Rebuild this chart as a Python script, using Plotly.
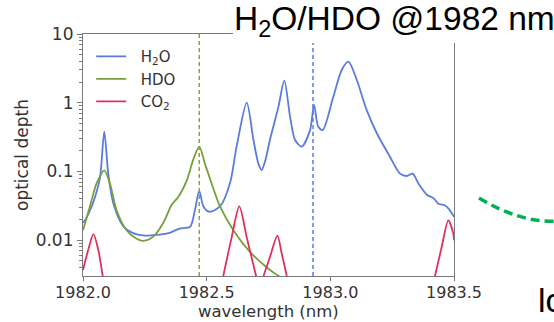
import plotly.graph_objects as go

# ---------------- data ----------------
h2o_wl = [1982.000, 1982.010, 1982.030, 1982.049, 1982.069, 1982.086, 1982.102, 1982.123,
          1982.163, 1982.200, 1982.250, 1982.300, 1982.350, 1982.390, 1982.433, 1982.453,
          1982.470, 1982.487, 1982.510, 1982.554, 1982.594, 1982.621, 1982.662, 1982.689,
          1982.709, 1982.722, 1982.736, 1982.756, 1982.790, 1982.814, 1982.837, 1982.857,
          1982.884, 1982.918, 1982.934, 1982.951, 1982.969, 1983.012, 1983.046, 1983.073,
          1983.107, 1983.147, 1983.188, 1983.241, 1983.282, 1983.309, 1983.333, 1983.356,
          1983.390, 1983.417, 1983.437, 1983.464, 1983.477, 1983.500]
h2o_od = [0.018, 0.020, 0.028, 0.043, 0.083, 0.38, 0.093, 0.034,
          0.016, 0.0128, 0.0117, 0.0120, 0.0128, 0.0148, 0.0157, 0.028,
          0.052, 0.031, 0.026, 0.031, 0.067, 0.23, 1.0, 0.29,
          0.13, 0.105, 0.14, 0.29, 0.87, 2.1, 0.63, 0.29,
          0.23, 0.40, 0.93, 0.45, 0.40, 1.22, 3.0, 3.95,
          2.14, 0.78, 0.36, 0.164, 0.093, 0.086, 0.093, 0.067,
          0.046, 0.041, 0.034, 0.032, 0.029, 0.022]

hdo_wl = [1982.000, 1982.028, 1982.055, 1982.086, 1982.109, 1982.136, 1982.176, 1982.217,
          1982.244, 1982.284, 1982.325, 1982.359, 1982.386, 1982.420, 1982.446, 1982.470,
          1982.493, 1982.520, 1982.554, 1982.608, 1982.675, 1982.756, 1982.820]
hdo_od = [0.014, 0.031, 0.067, 0.104, 0.067, 0.027, 0.014, 0.0105,
          0.0098, 0.0113, 0.018, 0.033, 0.043, 0.075, 0.15, 0.23,
          0.13, 0.067, 0.031, 0.014, 0.0068, 0.0037, 0.0026]

co2_wl = [1982.000, 1982.021, 1982.042, 1982.062, 1982.080, 1982.095, None,
          1982.550, 1982.567, 1982.601, 1982.632, 1982.662, 1982.700, 1982.715,
          1982.730, 1982.756, 1982.786, 1982.803, 1982.824, 1982.840, None,
          1983.405, 1983.423, 1983.450, 1983.477, 1983.497, 1983.500]
co2_od = [0.0037, 0.0072, 0.0123, 0.0072, 0.0030, 0.0015, None,
          0.0015, 0.0030, 0.011, 0.031, 0.011, 0.0030, 0.0018,
          0.0030, 0.0057, 0.0117, 0.0065, 0.0030, 0.0015, None,
          0.0015, 0.0030, 0.0079, 0.0195, 0.0126, 0.0100]

marker_wl = [1982.47, 1982.93]          # dashed reference lines (HDO, H2O)
x_ticks = [1982.0, 1982.5, 1983.0, 1983.5]
x_tick_text = ["1982.0", "1982.5", "1983.0", "1983.5"]
y_ticks = [0.01, 0.1, 1, 10]
y_tick_text = ["0.01", "0.1", "1", "10"]
y_minor = [m * d for d in [0.001, 0.01, 0.1, 1] for m in range(2, 10)]

# ---------------- styling ----------------
W, H = 554, 322
L, R, T, B = 83, 100, 34, 46
PW, PH = W - L - R, H - T - B


def px(xp):
    return (xp - L) / PW


def py(yp):
    return (H - B - yp) / PH


BLUE = "#5b7be0"
GREEN = "#76a03a"
RED = "#e0305e"
AXC = "#7a7a7a"
TXT = "#333333"
AXFONT = "DejaVu Sans"

fig = go.Figure()
fig.add_trace(go.Scatter(x=h2o_wl, y=h2o_od, mode="lines", name="  H<sub>2</sub>O",
                         line=dict(color=BLUE, width=1.8, shape="spline", smoothing=0.8)))
fig.add_trace(go.Scatter(x=hdo_wl, y=hdo_od, mode="lines", name="  HDO",
                         line=dict(color=GREEN, width=1.8, shape="spline", smoothing=0.8)))
fig.add_trace(go.Scatter(x=co2_wl, y=co2_od, mode="lines", name="  CO<sub>2</sub>",
                         connectgaps=False,
                         line=dict(color=RED, width=1.8, shape="spline", smoothing=0.8)))

for wl, col in zip(marker_wl, ["#86a83a", BLUE]):
    fig.add_shape(type="line", xref="x", yref="paper", x0=wl, x1=wl, y0=0, y1=1,
                  line=dict(color=col, width=1.5, dash="4px,3px"), layer="above")

# white box behind the slide title (it covers the top/right spines)
fig.add_shape(type="rect", xref="paper", yref="paper", x0=px(233), x1=px(600),
              y0=py(43), y1=py(-5), fillcolor="white", line=dict(width=0), layer="above")

# green dashed arc from the slide
fig.add_shape(type="path", xref="paper", yref="paper",
              path=f"M {px(479)},{py(198)} Q {px(522)},{py(224)} {px(560)},{py(221)}",
              line=dict(color="#00b050", width=3.5, dash="9px,5px"), layer="above")

fig.update_layout(
    width=W, height=H,
    margin=dict(l=L, r=R, t=T, b=B, pad=0),
    paper_bgcolor="white", plot_bgcolor="white",
    showlegend=True,
    legend=dict(x=0.022, y=0.975, xanchor="left", yanchor="top",
                bgcolor="rgba(0,0,0,0)", font=dict(family=AXFONT, size=15, color=TXT),
                tracegroupgap=0, itemwidth=30),
    xaxis=dict(range=[1982.0, 1983.5], tickvals=x_ticks, ticktext=x_tick_text,
               ticks="outside", ticklen=4, tickcolor=AXC, showgrid=False, zeroline=False,
               showline=True, linecolor=AXC, linewidth=1.2, mirror=True,
               ticklabelstandoff=-2,
               tickfont=dict(family=AXFONT, size=16, color=TXT)),
    yaxis=dict(type="log", range=[-2.52, 1.0], tickvals=y_ticks, ticktext=y_tick_text,
               ticks="outside", ticklen=5, tickcolor=AXC, showgrid=False, zeroline=False,
               showline=True, linecolor=AXC, linewidth=1.2, mirror=True,
               minor=dict(tickvals=y_minor, ticks="outside", ticklen=2.5,
                          tickcolor=AXC, showgrid=False),
               tickfont=dict(family=AXFONT, size=17, color=TXT)),
    annotations=[
        dict(text="wavelength (nm)", xref="paper", yref="paper", x=0.5, y=py(311),
             xanchor="center", yanchor="middle", showarrow=False,
             font=dict(family=AXFONT, size=16.5, color=TXT)),
        dict(text="optical depth", xref="paper", yref="paper", x=px(22), y=py(155),
             xanchor="center", yanchor="middle", showarrow=False, textangle=-90,
             font=dict(family=AXFONT, size=17, color=TXT)),
        dict(text="H<sub>2</sub>O/HDO @1982 nm", xref="paper", yref="paper",
             x=px(232), y=py(21), xanchor="left", yanchor="middle", showarrow=False,
             font=dict(family="Liberation Sans", size=33.5, color="black")),
        dict(text="lo", xref="paper", yref="paper",
             x=px(536), y=py(300), xanchor="left", yanchor="middle", showarrow=False,
             font=dict(family="Liberation Sans", size=34, color="black")),
    ],
)

fig.write_html("out.html")
